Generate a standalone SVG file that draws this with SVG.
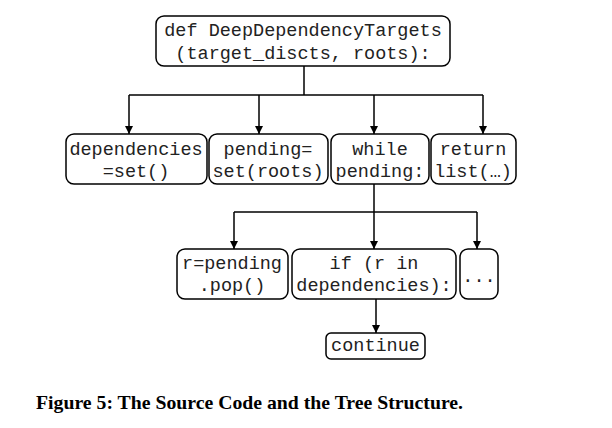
<svg xmlns="http://www.w3.org/2000/svg" width="612" height="428" viewBox="0 0 612 428">
<defs>
<marker id="ah" viewBox="0 0 10 10" refX="10" refY="5" markerWidth="8" markerHeight="8" markerUnits="userSpaceOnUse" orient="auto">
<path d="M0,0 L10,5 L0,10 Z" fill="#000"/>
</marker>
<style>
.box{fill:#fff;stroke:#000;stroke-width:1.5}
.t{font-family:"Liberation Mono","Courier New",monospace;font-size:18.5px;fill:#222;text-anchor:middle}
.c{fill:none;stroke:#000;stroke-width:1.5}
.cap{font-family:"Liberation Serif","Times New Roman",serif;font-weight:bold;font-size:19px;fill:#000}
</style>
</defs>
<rect width="612" height="428" fill="#fff"/>
<g id="connectors">
<path class="c" d="M304,66 V95"/>
<path class="c" d="M129,95 H483"/>
<path class="c" d="M129,95 V134" marker-end="url(#ah)"/>
<path class="c" d="M259,95 V134" marker-end="url(#ah)"/>
<path class="c" d="M374,95 V134" marker-end="url(#ah)"/>
<path class="c" d="M483,95 V134" marker-end="url(#ah)"/>
<path class="c" d="M374,184 V212"/>
<path class="c" d="M234,212 H477"/>
<path class="c" d="M234,212 V249" marker-end="url(#ah)"/>
<path class="c" d="M374,212 V249" marker-end="url(#ah)"/>
<path class="c" d="M477,212 V249" marker-end="url(#ah)"/>
<path class="c" d="M376,299 V333" marker-end="url(#ah)"/>
</g>
<g id="root">
<rect class="box" x="156" y="16" width="294" height="50" rx="8"/>
<text class="t" x="303" y="36">def DeepDependencyTargets</text>
<text class="t" x="303" y="59">(target_discts, roots):</text>
</g>
<g id="deps">
<rect class="box" x="66" y="134" width="141" height="50" rx="8"/>
<text class="t" x="136" y="155">dependencies</text>
<text class="t" x="136" y="177">=set()</text>
</g>
<g id="pending">
<rect class="box" x="209" y="134" width="119" height="50" rx="8"/>
<text class="t" x="268" y="155">pending=</text>
<text class="t" x="268" y="177">set(roots)</text>
</g>
<g id="while">
<rect class="box" x="331" y="134" width="98" height="50" rx="8"/>
<text class="t" x="380" y="155">while</text>
<text class="t" x="380" y="177">pending:</text>
</g>
<g id="return">
<rect class="box" x="431" y="134" width="85" height="50" rx="8"/>
<text class="t" x="473" y="155">return</text>
<text class="t" x="473" y="177">list(…)</text>
</g>
<g id="pop">
<rect class="box" x="177" y="249" width="111" height="50" rx="8"/>
<text class="t" x="232" y="269">r=pending</text>
<text class="t" x="232" y="291">.pop()</text>
</g>
<g id="if">
<rect class="box" x="292" y="249" width="164" height="50" rx="8"/>
<text class="t" x="374" y="269">if (r in</text>
<text class="t" x="374" y="291">dependencies):</text>
</g>
<g id="more">
<rect class="box" x="460" y="249" width="38" height="50" rx="8"/>
<text class="t" x="479" y="282">...</text>
</g>
<g id="continue">
<rect class="box" x="326" y="333" width="99" height="26" rx="5"/>
<text class="t" x="375.5" y="351">continue</text>
</g>
<text class="cap" x="36" y="409" textLength="427" lengthAdjust="spacingAndGlyphs">Figure 5: The Source Code and the Tree Structure.</text>
</svg>
